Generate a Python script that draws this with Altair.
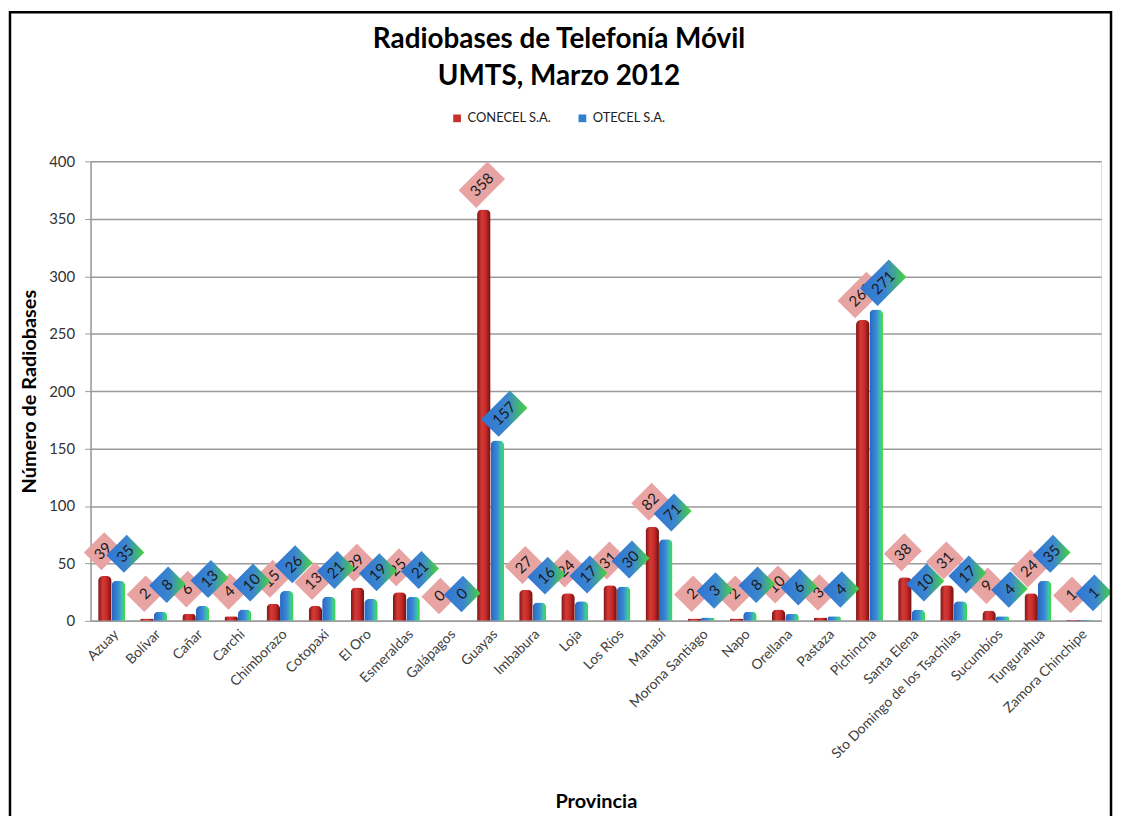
import math
import altair as alt
import pandas as pd

provincias = ["Azuay", "Bolívar", "Cañar", "Carchi", "Chimborazo", "Cotopaxi", "El Oro",
              "Esmeraldas", "Galápagos", "Guayas", "Imbabura", "Loja", "Los Ríos", "Manabí",
              "Morona Santiago", "Napo", "Orellana", "Pastaza", "Pichincha", "Santa Elena",
              "Sto Domingo de los Tsachilas", "Sucumbíos", "Tungurahua", "Zamora Chinchipe"]
conecel = [39, 2, 6, 4, 15, 13, 29, 25, 0, 358, 27, 24, 31, 82, 2, 2, 10, 3, 262, 38, 31, 9, 24, 1]
otecel = [35, 8, 13, 10, 26, 21, 19, 21, 0, 157, 16, 17, 30, 71, 3, 8, 6, 4, 271, 10, 17, 4, 35, 1]
series = ["CONECEL S.A.", "OTECEL S.A."]
y_ticks = [0, 50, 100, 150, 200, 250, 300, 350, 400]

rows = []
for p, c, o in zip(provincias, conecel, otecel):
    rows.append({"provincia": p, "serie": series[0], "valor": c, "key": "C" + str(len(str(c)))})
    rows.append({"provincia": p, "serie": series[1], "valor": o, "key": "O" + str(len(str(o)))})
df = pd.DataFrame(rows)

FONT = "Lato"
C45 = math.cos(math.pi / 4)


def box_path(cx, cy, L, T):
    """Rectangle rotated -45deg (long side along text), centred at offset (cx, cy) in px."""
    ux, uy = C45, -C45
    vx, vy = C45, C45
    a, b = L / 2, T / 2
    pts = [(cx + a * ux + b * vx, cy + a * uy + b * vy),
           (cx + a * ux - b * vx, cy + a * uy - b * vy),
           (cx - a * ux - b * vx, cy - a * uy - b * vy),
           (cx - a * ux + b * vx, cy - a * uy + b * vy)]
    return "M" + " L".join(f"{x:.2f},{y:.2f}" for x, y in pts) + " Z"


def text_offset(sx, sy):
    return (sx - sy) * C45, (sx + sy) * C45


box_len = {"1": 27, "2": 29, "3": 41}
BOX_T = 25
OFF_C = (-2, -25)
OFF_O = (7, -27)
shape_domain = ["C1", "C2", "C3", "O1", "O2", "O3"]
shape_range = ([box_path(OFF_C[0], OFF_C[1], box_len[k], BOX_T) for k in ["1", "2", "3"]] +
               [box_path(OFF_O[0], OFF_O[1], box_len[k], BOX_T) for k in ["1", "2", "3"]])

red_grad = alt.Gradient(gradient="linear", x1=0, x2=1, y1=0, y2=0, stops=[
    alt.GradientStop(color="#7d1414", offset=0),
    alt.GradientStop(color="#d63a36", offset=0.35),
    alt.GradientStop(color="#c42a28", offset=0.65),
    alt.GradientStop(color="#6e1010", offset=1)])
blue_grad = alt.Gradient(gradient="linear", x1=0, x2=1, y1=0, y2=0, stops=[
    alt.GradientStop(color="#2a66c0", offset=0),
    alt.GradientStop(color="#3a8ad6", offset=0.5),
    alt.GradientStop(color="#3cc8a0", offset=0.8),
    alt.GradientStop(color="#44d830", offset=1)])
box_blue = alt.Gradient(gradient="linear", x1=0, x2=1, y1=0, y2=0, stops=[
    alt.GradientStop(color="#2f74d2", offset=0),
    alt.GradientStop(color="#3b86cf", offset=0.55),
    alt.GradientStop(color="#48d43a", offset=1)])

base = alt.Chart(df).encode(
    x=alt.X("provincia:N", sort=provincias,
            scale=alt.Scale(paddingInner=0.36, paddingOuter=0.18),
            axis=alt.Axis(title="Provincia", labelAngle=315, labelFont=FONT, labelFontSize=14,
                          labelColor="#404040", ticks=False, domainColor="#9a9a9a",
                          domainWidth=1.5, labelPadding=6,
                          titleFont=FONT, titleFontSize=20, titleFontWeight="bold",
                          titleColor="black", titleY=188,
                          titleBaseline="alphabetic", titleAlign="center")),
    xOffset=alt.XOffset("serie:N", scale=alt.Scale(domain=series)),
    y=alt.Y("valor:Q", scale=alt.Scale(domain=[0, 400]),
            axis=alt.Axis(title="Número de Radiobases", values=y_ticks, labelFont=FONT,
                          labelFontSize=15, labelColor="#333333", gridColor="#9a9a9a",
                          gridWidth=1.5, domainColor="#9a9a9a", domainWidth=1.5,
                          tickColor="#9a9a9a", tickSize=6, labelPadding=10,
                          titleFont=FONT, titleFontSize=20, titleFontWeight="bold",
                          titleColor="black", titleAngle=270, titleX=-61, titleY=231,
                          titleBaseline="middle", titleAlign="center")),
)

is_c = alt.datum.serie == series[0]
is_o = alt.datum.serie == series[1]

bars_c = base.transform_filter(is_c).mark_bar(
    color=red_grad, cornerRadiusTopLeft=5, cornerRadiusTopRight=5)
bars_o = base.transform_filter(is_o).mark_bar(
    color=blue_grad, cornerRadiusTopLeft=5, cornerRadiusTopRight=5)

legend_layer = base.mark_square(opacity=0).encode(
    color=alt.Color("serie:N", scale=alt.Scale(domain=series, range=["#c8302c", "#2f80d0"]),
                    legend=alt.Legend(orient="none", legendX=362, legendY=-50,
                                      direction="horizontal", title=None, symbolType="square",
                                      symbolSize=60, symbolOpacity=1, symbolStrokeWidth=0,
                                      labelFont=FONT, labelFontSize=13, labelColor="#222222",
                                      columnPadding=24)))

shape_enc = alt.Shape("key:N", scale=alt.Scale(domain=shape_domain, range=shape_range), legend=None)
boxes_c = base.transform_filter(is_c).mark_point(
    filled=True, size=4, opacity=1, color="#e8a3a3", strokeWidth=0).encode(shape=shape_enc)
boxes_o = base.transform_filter(is_o).mark_point(
    filled=True, size=4, opacity=1, color=box_blue, strokeWidth=0).encode(shape=shape_enc)

dxc, dyc = text_offset(*OFF_C)
dxo, dyo = text_offset(*OFF_O)
text_c = base.transform_filter(is_c).mark_text(
    angle=315, dx=dxc, dy=dyc, font=FONT, fontSize=15, color="#1a1a1a",
    align="center", baseline="middle").encode(text="valor:Q")
text_o = base.transform_filter(is_o).mark_text(
    angle=315, dx=dxo, dy=dyo, font=FONT, fontSize=15, color="#1a1a1a",
    align="center", baseline="middle").encode(text="valor:Q")

frame = alt.Chart(pd.DataFrame({"f": [0]})).mark_rect(
    fill=None, fillOpacity=0, stroke="black", strokeWidth=2.5).encode(
    x=alt.value(-81), x2=alt.value(1026), y=alt.value(-150), y2=alt.value(700))

chart = alt.layer(bars_c, bars_o, legend_layer, boxes_c, text_c, boxes_o, text_o, frame).properties(
    width=1016, height=462,
    title=alt.TitleParams(text=["Radiobases de Telefonía Móvil", "UMTS, Marzo 2012"],
                          font=FONT, fontSize=28, fontWeight="bold", color="black",
                          anchor="middle", frame="group", offset=-80, dx=-37, lineHeight=37),
    autosize=alt.AutoSizeParams(type="none"),
    padding={"left": 83, "top": 152, "right": 14, "bottom": 194},
).configure_view(strokeWidth=0).configure(background="white")

chart.save("out.html", embed_options={"renderer": "svg", "actions": False})
